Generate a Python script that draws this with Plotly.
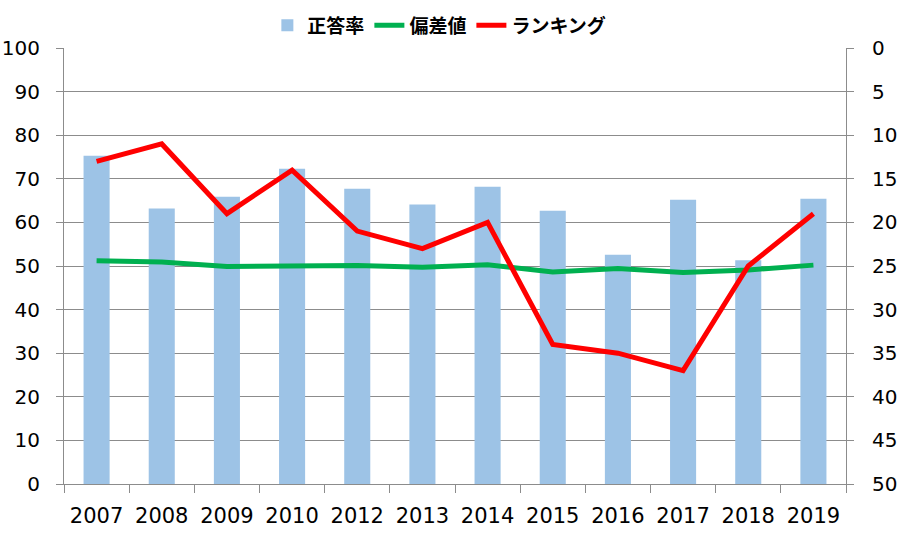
import plotly.graph_objects as go

years = ["2007", "2008", "2009", "2010", "2012", "2013", "2014", "2015", "2016", "2017", "2018", "2019"]
correct_rate = [75.3, 63.2, 65.9, 72.3, 67.7, 64.1, 68.2, 62.7, 52.6, 65.2, 51.3, 65.4]
deviation = [51.2, 50.9, 49.9, 50.1, 50.1, 49.7, 50.3, 48.6, 49.4, 48.5, 49.1, 50.2]
ranking = [13, 11, 19, 14, 21, 23, 20, 34, 35, 37, 25, 19]

left_ticks = list(range(0, 101, 10))
right_ticks = list(range(0, 51, 5))

axis_color = "#8c8c8c"
font_main = "DejaVu Sans, Verdana, sans-serif"

fig = go.Figure()
fig.add_trace(go.Bar(x=years, y=correct_rate, name="正答率",
                     marker=dict(color="#9DC3E6", line=dict(width=0))))
fig.add_trace(go.Scatter(x=years, y=deviation, name="偏差値", mode="lines",
                         line=dict(color="#00B050", width=5)))
fig.add_trace(go.Scatter(x=years, y=ranking, name="ランキング", mode="lines",
                         line=dict(color="#FF0000", width=5), yaxis="y2"))

fig.update_layout(
    width=905, height=546,
    margin=dict(l=64, r=59, t=48, b=62, autoexpand=False),
    paper_bgcolor="white", plot_bgcolor="white",
    bargap=0.6,
    font=dict(family=font_main, size=20, color="#000000"),
    showlegend=True,
    legend=dict(orientation="h", x=0.48, xanchor="center", xref="paper",
                y=1.008, yanchor="bottom", yref="paper",
                font=dict(family="Noto Sans CJK JP", size=19, color="#000000", weight="bold"),
                itemwidth=30, tracegroupgap=0, traceorder="normal"),
    xaxis=dict(type="category", showgrid=False, showline=True, linecolor=axis_color,
               linewidth=1, ticks="outside", tickson="boundaries", ticklen=8,
               tickcolor=axis_color, ticklabelstandoff=13, automargin=False,
               tickfont=dict(family=font_main, size=21)),
    yaxis=dict(range=[0, 100], tickvals=left_ticks, showgrid=True, gridcolor=axis_color,
               gridwidth=1, showline=True, linecolor=axis_color, ticks="outside",
               ticklen=7, tickcolor=axis_color, zeroline=False, ticklabelstandoff=12,
               automargin=False, tickfont=dict(family=font_main, size=20)),
    yaxis2=dict(range=[50, 0], tickvals=right_ticks, overlaying="y", side="right",
                showgrid=False, showline=True, linecolor=axis_color, ticks="outside",
                ticklen=7, tickcolor=axis_color, zeroline=False, ticklabelstandoff=14,
                automargin=False, tickfont=dict(family=font_main, size=20)),
)

fig.write_html("out.html")
